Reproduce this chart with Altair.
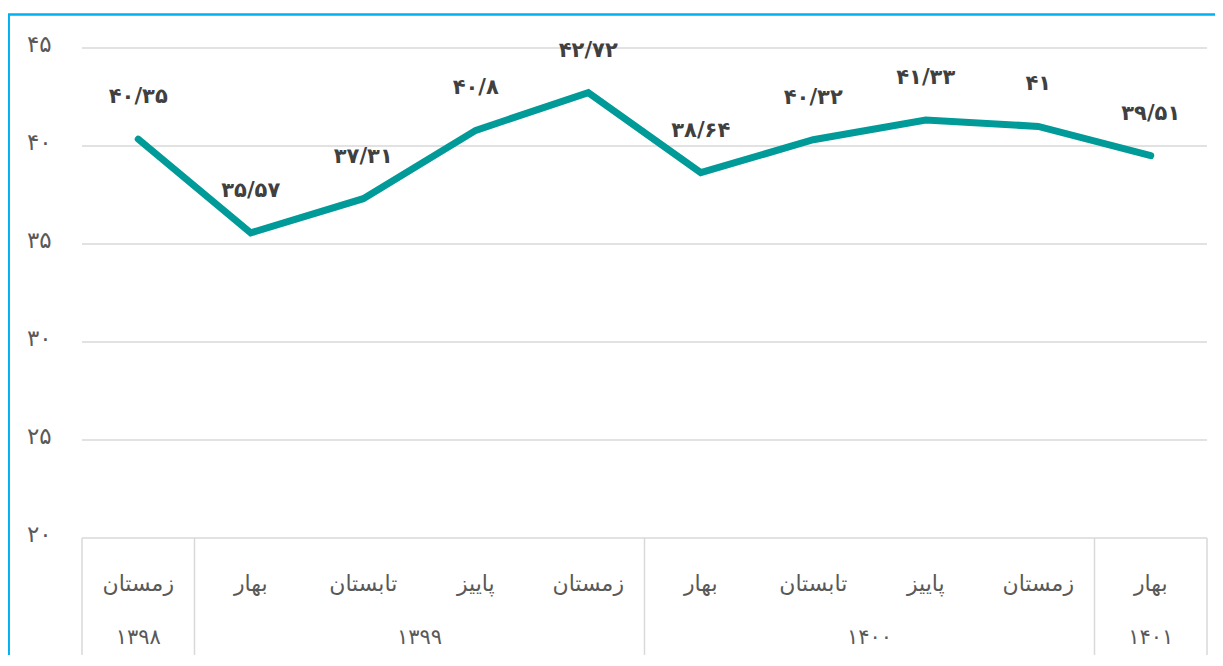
import altair as alt
import pandas as pd

seasons = ["زمستان", "بهار", "تابستان", "پاییز", "زمستان", "بهار", "تابستان", "پاییز", "زمستان", "بهار"]
values = [40.35, 35.57, 37.31, 40.8, 42.72, 38.64, 40.32, 41.33, 41, 39.51]
value_labels = ["۴۰/۳۵", "۳۵/۵۷", "۳۷/۳۱", "۴۰/۸", "۴۲/۷۲", "۳۸/۶۴", "۴۰/۳۲", "۴۱/۳۳", "۴۱", "۳۹/۵۱"]
years = ["۱۳۹۸", "۱۳۹۹", "۱۴۰۰", "۱۴۰۱"]
year_start = [0, 1, 5, 9]
year_end = [0, 4, 8, 9]
y_ticks = [20, 25, 30, 35, 40, 45]
y_tick_labels = ["۲۰", "۲۵", "۳۰", "۳۵", "۴۰", "۴۵"]

FONT = "DejaVu Sans"
W, H = 1125, 490

df = pd.DataFrame({
    "idx": list(range(len(seasons))),
    "season": seasons,
    "value": values,
    "label": value_labels,
})
df_years = pd.DataFrame({
    "year": years,
    "center": [(s + e) / 2 for s, e in zip(year_start, year_end)],
})
seps = [s - 0.5 for s in year_start] + [year_end[-1] + 0.5]
df_sep = pd.DataFrame({"pos": seps})
df_ticks = pd.DataFrame({"tick": y_ticks, "tlabel": y_tick_labels})

xscale = alt.Scale(domain=[-0.5, len(seasons) - 0.5], nice=False, zero=False)
yscale = alt.Scale(domain=[min(y_ticks), max(y_ticks)], nice=False, zero=False)

base = alt.Chart(df)

grid = alt.Chart(df_ticks).mark_rule(color="#D9D9D9", strokeWidth=1.5).encode(
    y=alt.Y("tick:Q", scale=yscale, axis=None),
    x=alt.value(0), x2=alt.value(W),
)

tick_text = alt.Chart(df_ticks).mark_text(
    fontSize=23, color="#595959", font=FONT, align="left", baseline="middle", dy=-3
).encode(
    y=alt.Y("tick:Q", scale=yscale, axis=None),
    x=alt.value(-55),
    text="tlabel:N",
)

line = base.mark_line(color="#009B98", strokeWidth=7, strokeCap="round").encode(
    x=alt.X("idx:Q", scale=xscale, axis=None),
    y=alt.Y("value:Q", scale=yscale, axis=None),
)

labels = base.mark_text(dy=-42, fontSize=21, fontWeight="bold", color="#404040", font=FONT).encode(
    x=alt.X("idx:Q", scale=xscale, axis=None),
    y=alt.Y("value:Q", scale=yscale, axis=None),
    text="label:N",
)

season_text = base.mark_text(fontSize=22, color="#595959", font=FONT, baseline="middle").encode(
    x=alt.X("idx:Q", scale=xscale, axis=None),
    y=alt.value(536),
    text="season:N",
)

year_text = alt.Chart(df_years).mark_text(fontSize=21, color="#595959", font=FONT, baseline="middle").encode(
    x=alt.X("center:Q", scale=xscale, axis=None),
    y=alt.value(590),
    text="year:N",
)

sep_rules = alt.Chart(df_sep).mark_rule(color="#D9D9D9", strokeWidth=1.5).encode(
    x=alt.X("pos:Q", scale=xscale, axis=None),
    y=alt.value(H),
    y2=alt.value(H + 160),
)

border_top = alt.Chart(df_sep.head(1)).mark_rule(color="#00B0F0", strokeWidth=2.5).encode(
    x=alt.value(-74), x2=alt.value(W + 20), y=alt.value(-33.5), y2=alt.value(-33.5),
)
border_left = alt.Chart(df_sep.head(1)).mark_rule(color="#00B0F0", strokeWidth=2.5).encode(
    x=alt.value(-73.3), x2=alt.value(-73.3), y=alt.value(-33.5), y2=alt.value(H + 160),
)

chart = alt.layer(
    grid, tick_text, sep_rules, line, labels, season_text, year_text, border_top, border_left
).properties(
    width=W, height=H,
    autosize=alt.AutoSizeParams(type="none"),
    padding={"left": 74, "top": 40, "right": 8, "bottom": 117},
).configure_view(stroke=None)

chart.save("out.html", embed_options={"renderer": "svg", "actions": False})
